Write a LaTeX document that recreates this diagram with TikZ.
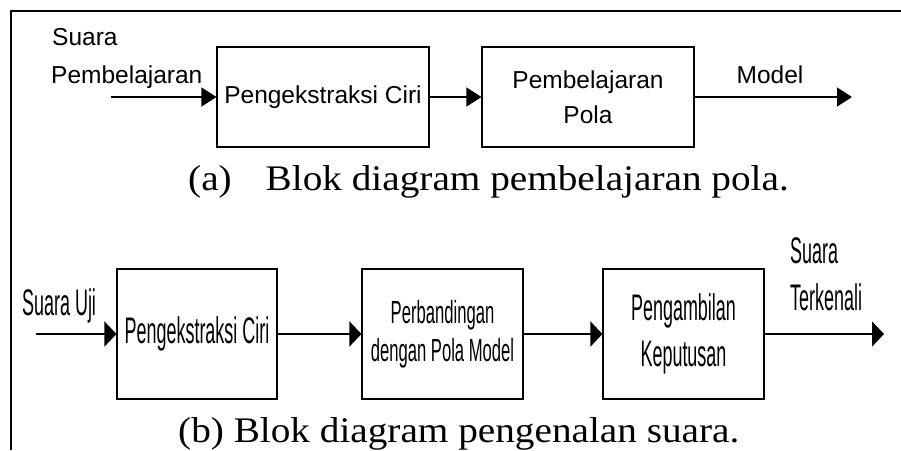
\documentclass[tikz,border=0pt]{standalone}
\usepackage{fontspec}
\usetikzlibrary{arrows.meta}
\newfontfamily\sansA{Liberation Sans}
\newfontfamily\sansN[FakeStretch=0.485]{Liberation Sans}
\newfontfamily\sansM[FakeStretch=0.52]{Liberation Sans}
\newfontfamily\serifW[FakeStretch=1.09]{Liberation Serif}
\begin{document}
\begin{tikzpicture}[x=1pt,y=-1pt,
  blk/.style={draw, line width=1.1pt, inner sep=0pt, align=center},
  topbox/.style={blk, minimum width=212pt, minimum height=100pt, font=\sansA\fontsize{24.5}{35}\selectfont},
  botbox/.style={blk, minimum width=161pt, minimum height=130pt, font=\sansN\fontsize{37}{46}\selectfont},
  toplbl/.style={inner sep=0pt, font=\sansA\fontsize{24.5}{35}\selectfont},
  botlbl/.style={inner sep=0pt, font=\sansN\fontsize{37}{46}\selectfont},
  capt/.style={inner sep=0pt, anchor=base west, font=\serifW\fontsize{36}{40}\selectfont},
  toparr/.style={-{Triangle[length=15pt,width=19pt]}, line width=1.2pt},
  botarr/.style={-{Triangle[length=12pt,width=25pt]}, line width=1.5pt},
]
\useasboundingbox (0,0) rectangle (901,450);
\fill[white] (0,0) rectangle (901,450);
% frame
\draw[line width=2pt] (11,450) -- (11,11) -- (901,11);

% (a)
\node[topbox] (a1) at (323,97) {\raisebox{2pt}{Pengekstraksi Ciri}};
\node[topbox] (a2) at (588,97) {Pembelajaran\\Pola};
\coordinate (ain) at (111,97);
\coordinate (aout) at (852,97);
\node[toplbl, anchor=base west] (ain1) at (52,45) {Suara};
\node[toplbl, anchor=base west] (ain2) at (51,83) {Pembelajaran};
\node[toplbl, anchor=base] (aoutl) at (770,83) {Model};
\draw[toparr] (ain) -- (a1.west);
\draw[toparr] (a1.east) -- (a2.west);
\draw[toparr] (a2.east) -- (aout);
\node[capt] (capa) at (188,190) {(a)\hspace{34pt}Blok diagram pembelajaran pola.};

% (b)
\node[botbox, minimum width=160pt] (b1) at (197,334) {Pengekstraksi Ciri};
\node[botbox, font=\sansM\fontsize{32}{38}\selectfont] (b2) at (442.5,334) {Perbandingan\\dengan Pola Model};
\node[botbox] (b3) at (683.5,334) {Pengambilan\\Keputusan};
\coordinate (bin) at (36,334);
\coordinate (bout) at (884,334);
\node[botlbl, anchor=base west] (binl) at (22,315) {Suara Uji};
\node[botlbl, anchor=base west] (bout1) at (790,263) {Suara};
\node[botlbl, anchor=base west] (bout2) at (790,310) {Terkenali};
\draw[botarr] (bin) -- (b1.west);
\draw[botarr] (b1.east) -- (b2.west);
\draw[botarr] (b2.east) -- (b3.west);
\draw[botarr] (b3.east) -- (bout);
\node[capt] (capb) at (178,442) {(b) Blok diagram pengenalan suara.};
\end{tikzpicture}
\end{document}
